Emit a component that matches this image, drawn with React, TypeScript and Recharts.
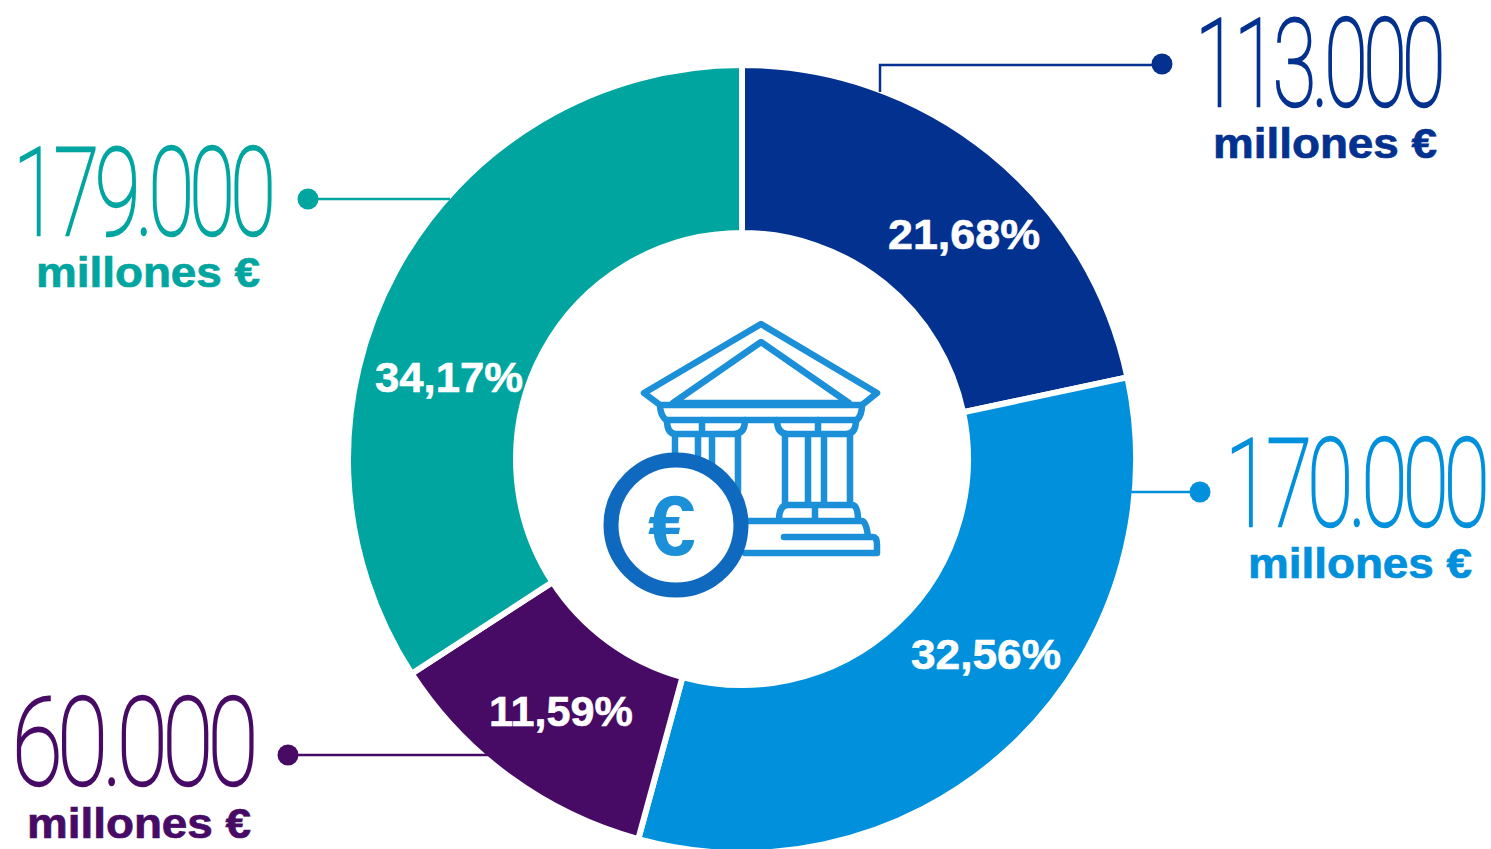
import { Cell, Pie, PieChart } from 'recharts';

const SEGMENT_NAMES = ['Segmento 1', 'Segmento 2', 'Segmento 3', 'Segmento 4'];
const SEGMENT_SHARES = [21.68, 32.56, 11.59, 34.17];
const SEGMENT_AMOUNTS = ['113.000', '170.000', '60.000', '179.000'];
const UNIT_LABEL = 'millones €';

const SEGMENT_COLORS = ['#03318F', '#0090DC', '#470B66', '#00A5A0'];

// where the percent text sits inside each ring segment
const SHARE_LABEL_POS = [
  { x: 964, y: 249, w: 152 },
  { x: 986, y: 669, w: 150 },
  { x: 561, y: 726, w: 144 },
  { x: 449, y: 392, w: 148 },
];

// big figure + unit text + leader line per segment
const CALLOUTS = [
  {
    figure: { x: 1195, y: 106, w: 246 },
    unit: { x: 1213, y: 158 },
    dot: { x: 1162, y: 64 },
    line: 'M880 92 V65 H1162',
  },
  {
    figure: { x: 1225, y: 526, w: 260 },
    unit: { x: 1248, y: 578 },
    dot: { x: 1200, y: 492 },
    line: 'M1130 492 H1200',
  },
  {
    figure: { x: 12, y: 785, w: 241 },
    unit: { x: 27, y: 838 },
    dot: { x: 288, y: 755 },
    line: 'M288 755 H492',
  },
  {
    figure: { x: 13, y: 235, w: 258 },
    unit: { x: 36, y: 287 },
    dot: { x: 308, y: 199 },
    line: 'M308 199 H450',
  },
];

const pieData = SEGMENT_NAMES.map((name, i) => ({ name, value: SEGMENT_SHARES[i] }));

const ICON_BLUE = '#1B90D8';
const COIN_BLUE = '#0F69BE';

function shareLabel({ index, value }: { index: number; value: number }) {
  const pos = SHARE_LABEL_POS[index];
  return (
    <text
      key={index}
      x={pos.x - pos.w / 2}
      y={pos.y}
      textLength={pos.w}
      lengthAdjust="spacingAndGlyphs"
      fill="#FFFFFF"
      stroke="#FFFFFF"
      strokeWidth={0.6}
      fontFamily="'Liberation Sans', sans-serif"
      fontWeight={700}
      fontSize={42}
    >
      {value.toFixed(2).replace('.', ',')}%
    </text>
  );
}

/** Bank building with the euro coin, centre of the ring */
function BankIcon() {
  return (
    <g fill="none" stroke={ICON_BLUE} strokeWidth={6.5} strokeLinejoin="round" strokeLinecap="round">
      {/* roof */}
      <path d="M761 324 L644 393 L660 405 H862 L877 393 Z" />
      <path d="M761 342 L673 403 H849 Z" />
      <path d="M660 405 Q660 415 666 420 H857 Q862 415 862 405" />
      {/* capitals */}
      <path d="M667 420 Q667 434 676 434 H702 M702 420 V434 M702 434 H734 Q745 434 745 420" />
      <path d="M777 420 Q777 434 788 434 H818 M818 420 V434 M818 434 H846 Q856 434 856 420" />
      {/* columns */}
      <path d="M675 436 V470 M698 436 V470 M712 436 V480 M738 436 V490" />
      <path d="M785 436 V503 M808 436 V503 M824 436 V503 M850 436 V503" />
      {/* column bases */}
      <path d="M779 520 Q779 505 788 505 H852 Q858 505 858 520 M815 505 V520" />
      {/* steps */}
      <path d="M745 521 H862 Q866 521 868 536 M784 537 H873 Q877 537 877 545 V553 H745" />
      {/* coin */}
      <circle cx={676} cy={525} r={65} fill="#FFFFFF" stroke={COIN_BLUE} strokeWidth={15} />
      <text
        x={672}
        y={555}
        textAnchor="middle"
        fill={ICON_BLUE}
        stroke="none"
        fontFamily="'Liberation Sans', sans-serif"
        fontWeight={700}
        fontSize={86}
      >
        €
      </text>
    </g>
  );
}

export default function App() {
  return (
    <div style={{ position: 'fixed', left: 0, top: 0, width: 1491, height: 849, background: '#FFFFFF', overflow: 'hidden' }}>
      <div style={{ position: 'absolute', left: 0, top: 0 }}>
        <PieChart width={1491} height={849} margin={{ top: 0, right: 0, bottom: 0, left: 0 }}>
          <Pie
            data={pieData}
            dataKey="value"
            nameKey="name"
            cx={742}
            cy={459}
            innerRadius={226}
            outerRadius={394}
            startAngle={90}
            endAngle={-270}
            stroke="#FFFFFF"
            strokeWidth={6}
            label={shareLabel as any}
            labelLine={false}
            isAnimationActive={false}
          >
            {pieData.map((d, i) => (
              <Cell key={d.name} fill={SEGMENT_COLORS[i]} />
            ))}
          </Pie>
        </PieChart>
      </div>
      <svg width={1491} height={849} style={{ position: 'absolute', left: 0, top: 0 }}>
        <BankIcon />
        {CALLOUTS.map((c, i) => (
          <g key={SEGMENT_AMOUNTS[i]} fill={SEGMENT_COLORS[i]}>
            <path d={c.line} fill="none" stroke={SEGMENT_COLORS[i]} strokeWidth={2.5} />
            <circle cx={c.dot.x} cy={c.dot.y} r={10.5} />
            <text
              x={c.figure.x}
              y={c.figure.y}
              textLength={c.figure.w}
              lengthAdjust="spacingAndGlyphs"
              letterSpacing={-7}
              fontFamily="Roboto, sans-serif"
              fontWeight={100}
              fontSize={123}
              stroke={SEGMENT_COLORS[i]}
              strokeWidth={2.4}
            >
              {SEGMENT_AMOUNTS[i]}
            </text>
            <text
              x={c.unit.x}
              y={c.unit.y}
              textLength={224}
              lengthAdjust="spacingAndGlyphs"
              stroke={SEGMENT_COLORS[i]}
              strokeWidth={0.7}
              fontFamily="'Liberation Sans', sans-serif"
              fontWeight={700}
              fontSize={42}
            >
              {UNIT_LABEL}
            </text>
          </g>
        ))}
      </svg>
    </div>
  );
}
